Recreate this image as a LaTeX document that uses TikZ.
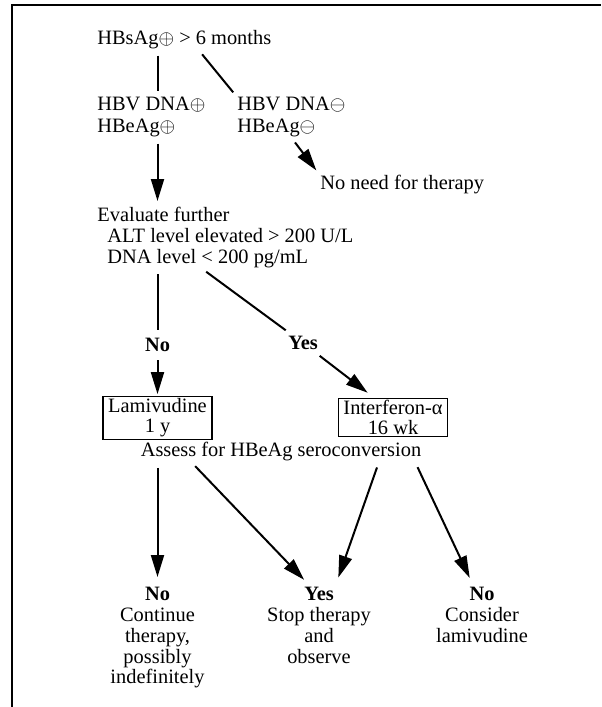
\documentclass[tikz,border=0pt]{standalone}
\usepackage{fontspec}
\setmainfont{Liberation Serif}
\usetikzlibrary{arrows.meta}

\begin{document}
\begin{tikzpicture}[x=.5pt,y=-.5pt,
  txt/.style={inner sep=0pt,align=left,font=\fontsize{10.2}{10.4}\selectfont},
  lbl/.style={inner sep=1pt,font=\fontsize{10.2}{10.4}\selectfont\bfseries},
  box/.style={draw,line width=.6pt,inner xsep=2.5pt,inner ysep=1pt,align=center,minimum width=54.5pt,font=\fontsize{10.2}{10}\selectfont},
  conn/.style={line width=1pt,shorten <=3pt,shorten >=3pt},
  arr/.style={conn,-{Triangle[length=11pt,width=6.5pt]}}]
\useasboundingbox(0,0)rectangle(601,707);
\draw[line width=1pt](12,707)--(12,5)--(601,5);
% nodes
\node[txt,anchor=west](hbs)at(97,40){HBsAg$\oplus$ > 6 months};
\node[txt,anchor=north west,font=\fontsize{10.2}{11}\selectfont](pos)at(97,97){HBV DNA$\oplus$\\HBeAg$\oplus$};
\node[txt,anchor=north west,font=\fontsize{10.2}{11}\selectfont](neg)at(237,97){HBV DNA$\ominus$\\HBeAg$\ominus$};
\node[txt,anchor=west](none)at(320,185){No need for therapy};
\node[txt,anchor=north west](eval)at(97,207){Evaluate further\\\hspace*{5pt}ALT level elevated > 200 U/L\\\hspace*{5pt}DNA level < 200 pg/mL};
\node[lbl](no1)at(157.5,345){No};
\node[lbl](yes1)at(303,343){Yes};
\node[box](lam)at(157.5,418){Lamivudine\\1 y};
\node[box](ifn)at(393,417.5){Interferon-α\\16 wk};
\node[txt](assess)at(281,452){Assess for HBeAg seroconversion};
\node[txt,align=center,anchor=north](resA)at(157.5,587){\textbf{No}\\Continue\\therapy,\\possibly\\indefinitely};
\node[txt,align=center,anchor=north](resB)at(319,587){\textbf{Yes}\\Stop therapy\\and\\observe};
\node[txt,align=center,anchor=north](resC)at(482,587){\textbf{No}\\Consider\\lamivudine};
% connectors
\draw[conn](hbs.south-|lam)--(pos.north-|lam);
\draw[conn]([xshift=7pt]hbs.south)--(neg.north west);
\draw[arr](pos.south-|lam)--(eval.north-|lam);
\draw[arr](neg.south)--(none.north west);
\draw[conn](eval.south-|lam)--(no1);
\draw[conn]([xshift=-12pt]eval.south)--(yes1);
\draw[arr,shorten >=1pt](no1)--(lam);
\draw[arr,shorten >=4pt](yes1)--([xshift=-9.5pt]ifn.north);
\draw[arr,shorten >=5pt](assess.south-|lam)--(resA.north);
\draw[arr,shorten >=5pt]([xshift=-45pt]assess.south)--([xshift=-4pt]resB.north);
\draw[arr,shorten >=5pt]([xshift=49pt]assess.south)--([xshift=8pt]resB.north);
\draw[arr,shorten >=5pt]([xshift=67pt]assess.south)--([xshift=-4pt]resC.north);
\end{tikzpicture}
\end{document}
